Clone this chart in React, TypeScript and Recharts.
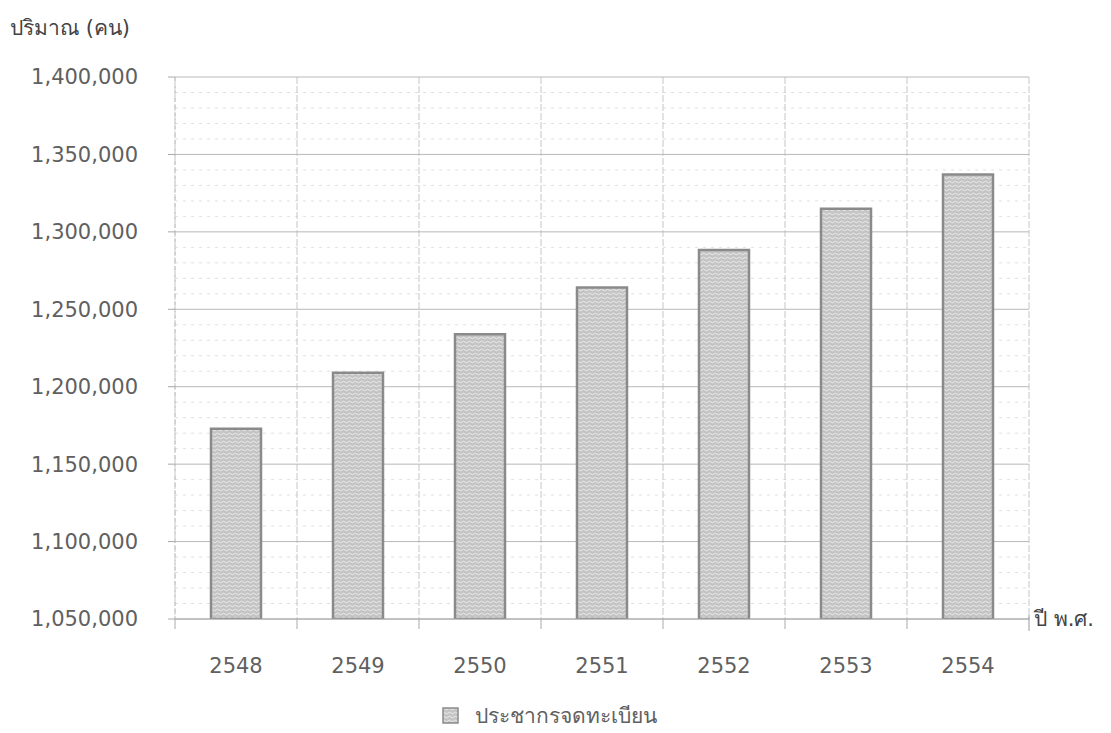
import React from 'react';
import { BarChart, Bar, XAxis, YAxis, CartesianGrid, Label } from 'recharts';

const years = ['2548', '2549', '2550', '2551', '2552', '2553', '2554'];
const population = [1172800, 1209000, 1233800, 1264000, 1288300, 1315000, 1337000];
const yTicks = [1050000, 1100000, 1150000, 1200000, 1250000, 1300000, 1350000, 1400000];
const seriesName = 'ประชากรจดทะเบียน';
const yTitle = 'ปริมาณ (คน)';
const xTitle = 'ปี พ.ศ.';

const data = years.map((year, i) => ({ year, value: population[i] }));

const FONT = '"DejaVu Sans", "Noto Sans", Tahoma, sans-serif';
const TEXT = '#606060';
const X_TICK_GAP = 47;

// minor lines every 10,000 between the labelled ticks
const minorValues: number[] = [];
for (let v = yTicks[0] + 10000; v < yTicks[yTicks.length - 1]; v += 10000) {
  if ((v - yTicks[0]) % 50000 !== 0) minorValues.push(v);
}

const minorRows = ({ yAxis, offset }: any) => {
  const s = yAxis?.scale;
  if (typeof s === 'function') return minorValues.map((v) => s(v));
  if (s && typeof s.map === 'function') return minorValues.map((v) => s.map(v));
  const lo = yTicks[0];
  const hi = yTicks[yTicks.length - 1];
  return minorValues.map((v) => offset.top + (1 - (v - lo) / (hi - lo)) * offset.height);
};

// vertical lines sit on the category boundaries, Excel style
const categoryEdges = ({ offset }: any) => {
  const step = offset.width / years.length;
  return [...years, ''].map((_, i) => offset.left + i * step);
};

const WavePattern = ({ id }: { id: string }) => (
  <pattern id={id} width={6} height={4} patternUnits="userSpaceOnUse">
    <rect width={6} height={4} fill="#c4c4c4" />
    <path d="M0 2 Q1.5 0.4 3 2 T6 2" fill="none" stroke="#ebebeb" strokeWidth={1} />
  </pattern>
);

const YearTick = (props: any) => {
  const { x, y, payload, index, visibleTicksCount, width } = props;
  const half = payload.offset || width / years.length / 2;
  const axisY = y - X_TICK_GAP;
  return (
    <g>
      <line x1={x - half} x2={x - half} y1={axisY} y2={axisY + 10} stroke="#aaa" />
      {index === visibleTicksCount - 1 && (
        <line x1={x + half} x2={x + half} y1={axisY - 4} y2={axisY + 12} stroke="#999" />
      )}
      <text x={x} y={y} textAnchor="middle" dominantBaseline="central" fill={TEXT} fontSize={21} fontFamily={FONT}>
        {payload.value}
      </text>
    </g>
  );
};

const LegendBox = () => (
  <div
    style={{
      position: 'absolute',
      left: 442,
      top: 699,
      display: 'flex',
      alignItems: 'center',
      fontFamily: FONT,
      fontSize: 21,
      color: TEXT,
    }}
  >
    <svg width={17} height={17} style={{ marginRight: 16 }}>
      <defs>
        <WavePattern id="waveLegend" />
      </defs>
      <rect x={1} y={1} width={15} height={15} fill="url(#waveLegend)" stroke="#8a8a8a" strokeWidth={1.5} />
    </svg>
    <span>{seriesName}</span>
  </div>
);

export default function App() {
  return (
    <div style={{ position: 'absolute', left: 0, top: 0, width: 1111, height: 733, background: '#fff' }}>
      <BarChart width={1111} height={733} data={data} margin={{ top: 77, right: 82, bottom: 74, left: 0 }}>
        <defs>
          <WavePattern id="waveBar" />
        </defs>
        <CartesianGrid
          vertical={false}
          horizontalCoordinatesGenerator={minorRows}
          stroke="#e0e0e0"
          strokeDasharray="3 5"
        />
        <CartesianGrid
          horizontal={false}
          vertical
          verticalCoordinatesGenerator={categoryEdges}
          stroke="#c6c6c6"
          strokeDasharray="7 2"
        />
        <CartesianGrid horizontal vertical={false} stroke="#b8b8b8" strokeDasharray="" />
        <XAxis
          dataKey="year"
          axisLine={{ stroke: '#a8a8a8' }}
          tickLine={false}
          tickSize={0}
          tickMargin={X_TICK_GAP}
          height={40}
          interval={0}
          tick={<YearTick />}
        >
          <Label
            content={({ viewBox }: any) => (
              <text
                x={viewBox.x + viewBox.width + 5}
                y={viewBox.y}
                dominantBaseline="central"
                fill="#444"
                fontSize={21}
                fontFamily={FONT}
              >
                {xTitle}
              </text>
            )}
          />
        </XAxis>
        <YAxis
          width={175}
          domain={[yTicks[0], yTicks[yTicks.length - 1]]}
          ticks={yTicks}
          interval={0}
          allowDataOverflow
          axisLine={{ stroke: '#c4c4c4', strokeDasharray: '4 3' }}
          tickLine={{ stroke: '#a8a8a8' }}
          tickSize={7}
          tickMargin={30}
          tickFormatter={(v: number) => v.toLocaleString('en-US')}
          tick={{ fill: TEXT, fontSize: 21, fontFamily: FONT }}
        >
          <Label
            content={({ viewBox }: any) => (
              <text x={viewBox.x + 10} y={viewBox.y - 49} dominantBaseline="central" fill="#444" fontSize={21} fontFamily={FONT}>
                {yTitle}
              </text>
            )}
          />
        </YAxis>
        <Bar
          dataKey="value"
          name={seriesName}
          barSize={50}
          fill="url(#waveBar)"
          stroke="#8a8a8a"
          strokeWidth={2.5}
          isAnimationActive={false}
        />
      </BarChart>
      <LegendBox />
    </div>
  );
}
